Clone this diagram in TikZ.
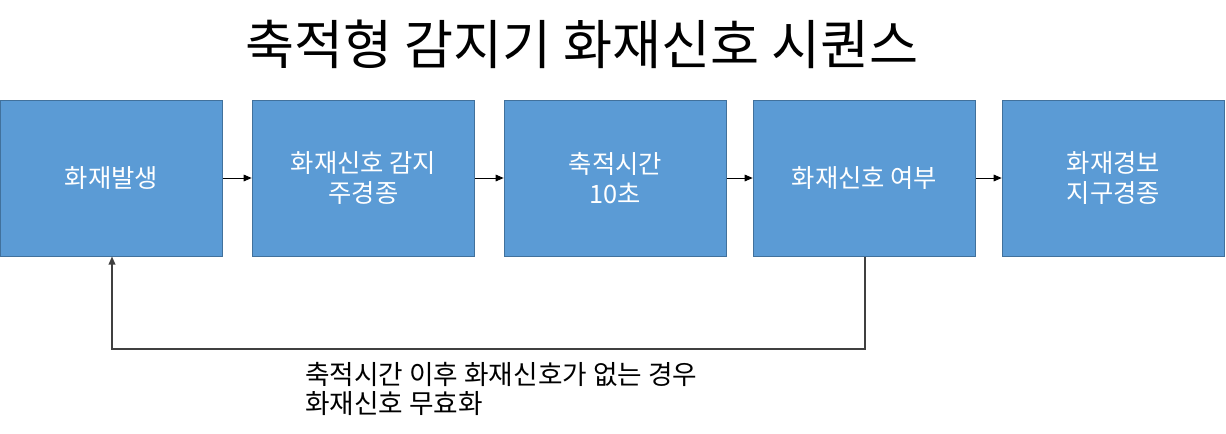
\documentclass[tikz,border=0pt]{standalone}
\usepackage{fontspec}
\setmainfont{Noto Sans CJK KR}
\usetikzlibrary{positioning,arrows.meta,calc}
\definecolor{stepBlue}{RGB}{91,155,213}
\definecolor{stepEdge}{RGB}{65,113,156}
\definecolor{loopGray}{RGB}{64,64,64}

\begin{document}
\begin{tikzpicture}[
    x=0.75pt, y=-0.75pt,
    stage/.style={rectangle, draw=stepEdge, fill=stepBlue, line width=0.75pt,
      minimum width=167pt, minimum height=117pt, inner sep=0pt,
      text=white, align=center, font=\fontsize{19}{22}\selectfont},
    flow/.style={draw=black, line width=0.75pt, -{Triangle[length=6pt,width=5pt]}},
    back flow/.style={draw=loopGray, line width=1pt, -{Triangle[length=6pt,width=5pt]}},
    note/.style={font=\fontsize{20}{22}\selectfont, align=left, inner sep=0pt}
]
  \useasboundingbox (0,0) rectangle (1226,433);

  \node[font=\fontsize{40}{44}\selectfont] (title) at (582,44) {축적형 감지기 화재신호 시퀀스};

  \node[stage] (fire)    at (111.5,178) {화재발생};
  \node[stage] (detect)  at (363.5,178) {화재신호 감지\\주경종};
  \node[stage] (delay)   at (615.5,178) {축적시간\\10초};
  \node[stage] (check)   at (864.5,178) {화재신호 여부};
  \node[stage] (alarm)   at (1113.5,178) {화재경보\\지구경종};

  \draw[flow] (fire) -- (detect);
  \draw[flow] (detect) -- (delay);
  \draw[flow] (delay) -- (check);
  \draw[flow] (check) -- (alarm);

  % reset path back to the start
  \coordinate (turnR) at (865,349);
  \coordinate (turnL) at (112,349);
  \draw[back flow] (check.south -| turnR) -- (turnR) -- (turnL) -- (fire.south -| turnL);

  \node[note, anchor=north west] (reset) at (305,362) {축적시간 이후 화재신호가 없는 경우\\화재신호 무효화};
\end{tikzpicture}
\end{document}
